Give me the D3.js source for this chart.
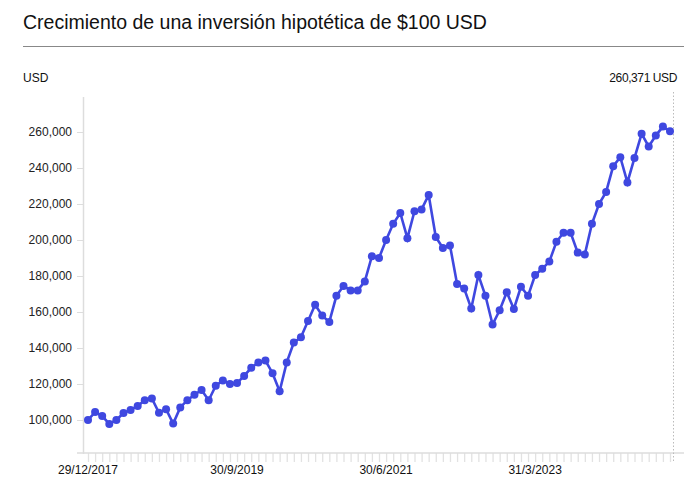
<!DOCTYPE html>
<html><head><meta charset="utf-8">
<script src="https://cdn.jsdelivr.net/npm/d3@7"></script>
<style>body{margin:0;background:#fff;font-family:"Liberation Sans",Arial,sans-serif}</style>
</head><body><svg id="c" width="684" height="490"></svg>
<script>
const title = "Crecimiento de una inversión hipotética de $100 USD";
const startMonth = [2017, 11];
const values = [100.0,104.4,102.2,97.8,100,103.9,105.6,107.8,111,112,104,106,98,107,111,114,116.7,111,119,122,120,120.5,124.5,129,132,133,126,116,132,143,146,155,164,158,154.5,169,174.5,172,172,177,191,190,200,209,215,201,216,217,225,201.7,195.6,197,175.6,173,162,180.5,169,153,161,171,161.7,174,169,180.5,184,188,199,204,204,193,192,209,220,226.7,241,246,232,245.6,259,252,258,263,260.371].map(v=>v*1000);
const yTicks = [100000,120000,140000,160000,180000,200000,220000,240000,260000];
const xTickIdx = [0,21,42,63];
const xTickLabels = ["29/12/2017","30/9/2019","30/6/2021","31/3/2023"];
const lastLabel = "260,371 USD";

const svg = d3.select("#c");
const x = d3.scaleLinear().domain([0, values.length-1]).range([88, 670]);
const y = d3.scaleLinear().domain([100000, 260000]).range([420, 132]);
const fmt = d3.format(",");

svg.append("text").attr("x",23).attr("y",29).attr("font-size",19.5).attr("fill","#111").text(title);
svg.append("line").attr("x1",23).attr("x2",684).attr("y1",46.5).attr("y2",46.5).attr("stroke","#888").attr("stroke-width",1);
svg.append("text").attr("x",23).attr("y",82).attr("font-size",12).attr("fill","#111").text("USD");
svg.append("text").attr("x",677).attr("y",82).attr("text-anchor","end").attr("font-size",12).attr("letter-spacing","-0.4").attr("fill","#111").text(lastLabel);

// y axis
const ya = svg.append("g").attr("transform","translate(83,0)")
  .call(d3.axisLeft(y).tickValues(yTicks).tickFormat(fmt).tickSize(6).tickPadding(5));
ya.select(".domain").remove();
ya.selectAll(".tick line").attr("stroke","#ddd");
ya.selectAll("text").attr("font-size",12).attr("fill","#222").attr("font-family","Liberation Sans, Arial");
svg.append("line").attr("x1",83.5).attr("x2",83.5).attr("y1",97).attr("y2",454).attr("stroke","#ddd").attr("stroke-width",1.5);

// x axis
const xa = svg.append("g").attr("transform","translate(0,453)")
  .call(d3.axisBottom(x).tickValues(d3.range(values.length)).tickSize(9).tickFormat(""));
xa.select(".domain").remove();
xa.selectAll(".tick line").attr("stroke","#e2e2e2").attr("stroke-width",1.3);
svg.append("line").attr("x1",77).attr("x2",684).attr("y1",453).attr("y2",453).attr("stroke","#ddd").attr("stroke-width",1.5);
svg.append("g").selectAll("text").data(xTickIdx).join("text")
  .attr("x",d=>x(d)).attr("y",474).attr("text-anchor","middle").attr("font-size",12).attr("fill","#111")
  .text((d,i)=>xTickLabels[i]);

// dotted end line
svg.append("line").attr("x1",x(values.length-1)+3.5).attr("x2",x(values.length-1)+3.5).attr("y1",92).attr("y2",462)
  .attr("stroke","#bbb").attr("stroke-dasharray","1.5,2");

const line = d3.line().x((d,i)=>x(i)).y(d=>y(d));
svg.append("path").datum(values).attr("d",line).attr("fill","none").attr("stroke","#3f48e0").attr("stroke-width",2.6);
svg.append("g").selectAll("circle").data(values).join("circle")
  .attr("cx",(d,i)=>x(i)).attr("cy",d=>y(d)).attr("r",4).attr("fill","#3f48e0");
</script></body></html>
